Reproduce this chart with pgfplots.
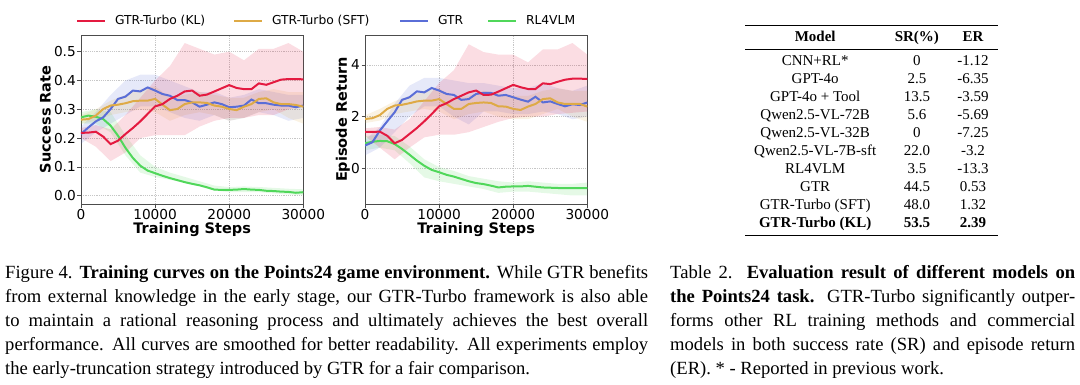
\documentclass[border=0pt]{standalone}
\usepackage{pgfplots}
\pgfplotsset{compat=1.18}
\usepackage{fontspec}
\setmainfont{Liberation Serif}
\newfontfamily\dejavu{DejaVu Sans}
\usepackage{booktabs}
\usepackage{array}
\definecolor{kl}{RGB}{228,26,64}
\definecolor{sft}{RGB}{222,170,70}
\definecolor{gtr}{RGB}{90,110,215}
\definecolor{rl}{RGB}{80,215,90}
\pgfplotsset{
  common/.style={
    scale only axis, width=222.3pt, height=169pt,
    xmin=0, xmax=30000, xtick={0,10000,20000,30000},
    scaled x ticks=false, scaled y ticks=false,
    xticklabel style={/pgf/number format/fixed,/pgf/number format/1000 sep={}},
    /pgf/number format/assume math mode=true,
    tick label style={font=\dejavu\fontsize{13.7}{15}\selectfont, inner sep=1.5pt},
    label style={font=\dejavu\bfseries\fontsize{14.5}{16}\selectfont},
    axis line style={black!70, line width=0.8pt},
    tick style={black!70, line width=0.7pt},
    tick align=outside, major tick length=3.5pt,
    xtick pos=bottom, ytick pos=left,
    grid=major, major grid style={gray!45, dash pattern=on 1.2pt off 1pt, line width=0.6pt},
    x label style={at={(axis description cs:0.5,-0.150)}, anchor=center},
  },
  band/.style={fill=#1, fill opacity=0.15, draw=none, forget plot},
}
\begin{document}
\begin{tikzpicture}
\path[use as bounding box] (0pt,0pt) rectangle (1080pt,384pt);

% ---------------- left axis: success rate
\begin{axis}[common, at={(81pt,180pt)}, anchor=south west,
  ymin=-0.029, ymax=0.558, ytick={0,0.1,0.2,0.3,0.4,0.5},
  yticklabel style={/pgf/number format/fixed,/pgf/number format/fixed zerofill,/pgf/number format/precision=1},
  xlabel={Training Steps}, ylabel={Success Rate},
  y label style={at={(axis description cs:-0.160,0.5)}, anchor=center},
  legend columns=4,
  legend cell align=left,
  legend image code/.code={\draw[#1] (0pt,0pt) -- (28pt,0pt);},
  legend style={draw=none, fill=none, inner sep=0pt,
    at={(axis description cs:-0.0233,1.0846)}, anchor=west,
    font=\dejavu\fontsize{12.3}{14}\selectfont,
    nodes={inner sep=0pt},
    /tikz/every odd column/.append style={column sep=9pt}},
]
\addlegendimage{kl, line width=2pt}\addlegendentry{\makebox[118pt][l]{GTR-Turbo (KL)}}
\addlegendimage{sft, line width=2pt}\addlegendentry{\makebox[127pt][l]{GTR-Turbo (SFT)}}
\addlegendimage{gtr, line width=2pt}\addlegendentry{\makebox[49pt][l]{GTR}}
\addlegendimage{rl, line width=2pt}\addlegendentry{RL4VLM}

% bands: upper bound forward, lower bound backward
\addplot[band=rl] coordinates {(0,0.29)(2000,0.30)(4000,0.29)(6000,0.21)(8000,0.14)(10000,0.10)(12000,0.08)(14000,0.065)(16000,0.05)(18000,0.035)(20000,0.03)(22000,0.032)(24000,0.03)(26000,0.027)(28000,0.024)(30000,0.022)
 (30000,0.002)(28000,0.004)(26000,0.008)(24000,0.012)(22000,0.012)(20000,0.012)(18000,0.018)(16000,0.032)(14000,0.045)(12000,0.055)(10000,0.065)(8000,0.08)(6000,0.14)(4000,0.22)(2000,0.25)(0,0.25)} -- cycle;
\addplot[band=gtr] coordinates {(0,0.24)(2000,0.29)(4000,0.35)(6000,0.40)(8000,0.42)(10000,0.42)(12000,0.40)(14000,0.38)(16000,0.36)(18000,0.36)(20000,0.34)(22000,0.35)(24000,0.37)(26000,0.36)(28000,0.35)(30000,0.35)
 (30000,0.27)(28000,0.26)(26000,0.28)(24000,0.29)(22000,0.27)(20000,0.26)(18000,0.28)(16000,0.26)(14000,0.27)(12000,0.29)(10000,0.31)(8000,0.31)(6000,0.28)(4000,0.25)(2000,0.22)(0,0.18)} -- cycle;
\addplot[band=sft] coordinates {(0,0.28)(2000,0.30)(4000,0.33)(6000,0.35)(8000,0.37)(10000,0.38)(12000,0.34)(14000,0.35)(16000,0.36)(18000,0.35)(20000,0.34)(22000,0.34)(24000,0.36)(26000,0.37)(28000,0.36)(30000,0.36)
 (30000,0.25)(28000,0.27)(26000,0.30)(24000,0.29)(22000,0.27)(20000,0.26)(18000,0.28)(16000,0.29)(14000,0.28)(12000,0.26)(10000,0.29)(8000,0.30)(6000,0.29)(4000,0.28)(2000,0.26)(0,0.25)} -- cycle;
\addplot[band=kl] coordinates {(0,0.235)(2000,0.245)(4000,0.23)(6000,0.28)(8000,0.34)(10000,0.40)(12000,0.45)(14000,0.53)(16000,0.51)(18000,0.49)(20000,0.50)(22000,0.47)(24000,0.51)(26000,0.51)(28000,0.53)(30000,0.50)
 (30000,0.31)(28000,0.30)(26000,0.28)(24000,0.28)(22000,0.27)(20000,0.27)(18000,0.26)(16000,0.24)(14000,0.21)(12000,0.21)(10000,0.21)(8000,0.20)(6000,0.15)(4000,0.12)(2000,0.17)(0,0.20)} -- cycle;

% lines
\addplot[rl, line width=2pt, forget plot] coordinates {(0,0.272)(1000,0.278)(2000,0.274)(3000,0.266)(4000,0.243)(5000,0.208)(6000,0.166)(7000,0.131)(8000,0.104)(9000,0.087)(10000,0.078)(11000,0.069)(12000,0.061)(13000,0.054)(14000,0.047)(15000,0.041)(16000,0.036)(17000,0.029)(18000,0.021)(19000,0.020)(20000,0.020)(21000,0.021)(22000,0.023)(23000,0.021)(24000,0.020)(25000,0.017)(26000,0.016)(27000,0.014)(28000,0.013)(29000,0.010)(30000,0.012)};
\addplot[gtr, line width=2pt, forget plot] coordinates {(0,0.214)(1000,0.237)(2000,0.258)(3000,0.272)(4000,0.301)(5000,0.336)(6000,0.344)(7000,0.365)(8000,0.362)(9000,0.376)(10000,0.365)(11000,0.353)(12000,0.347)(13000,0.332)(14000,0.332)(15000,0.324)(16000,0.309)(17000,0.316)(18000,0.324)(19000,0.318)(20000,0.307)(21000,0.309)(22000,0.313)(23000,0.334)(24000,0.321)(25000,0.321)(26000,0.316)(27000,0.313)(28000,0.313)(29000,0.307)(30000,0.313)};
\addplot[sft, line width=2pt, forget plot] coordinates {(0,0.264)(1000,0.266)(2000,0.278)(3000,0.301)(4000,0.313)(5000,0.316)(6000,0.321)(7000,0.328)(8000,0.330)(9000,0.330)(10000,0.336)(11000,0.316)(12000,0.297)(13000,0.301)(14000,0.318)(15000,0.324)(16000,0.324)(17000,0.322)(18000,0.313)(19000,0.309)(20000,0.301)(21000,0.297)(22000,0.309)(23000,0.318)(24000,0.336)(25000,0.338)(26000,0.324)(27000,0.318)(28000,0.318)(29000,0.315)(30000,0.309)};
\addplot[kl, line width=2pt, forget plot] coordinates {(0,0.218)(1000,0.219)(2000,0.222)(3000,0.205)(4000,0.179)(5000,0.191)(6000,0.214)(7000,0.235)(8000,0.258)(9000,0.284)(10000,0.310)(11000,0.318)(12000,0.336)(13000,0.347)(14000,0.362)(15000,0.365)(16000,0.347)(17000,0.351)(18000,0.362)(19000,0.373)(20000,0.384)(21000,0.374)(22000,0.370)(23000,0.370)(24000,0.390)(25000,0.385)(26000,0.394)(27000,0.403)(28000,0.405)(29000,0.405)(30000,0.404)};
\end{axis}

% ---------------- right axis: episode return
\begin{axis}[common, at={(365pt,180pt)}, anchor=south west,
  ymin=-1.38, ymax=5.16, ytick={0,2,4},
  xlabel={Training Steps}, ylabel={Episode Return},
  y label style={at={(axis description cs:-0.100,0.5)}, anchor=center},
]
\addplot[band=rl] coordinates {(0,1.25)(2000,1.3)(4000,1.25)(6000,0.85)(8000,0.35)(10000,0.05)(12000,-0.1)(14000,-0.3)(16000,-0.4)(18000,-0.5)(20000,-0.55)(22000,-0.5)(24000,-0.55)(26000,-0.6)(28000,-0.6)(30000,-0.55)
 (30000,-1.05)(28000,-1.05)(26000,-1.0)(24000,-0.95)(22000,-0.9)(20000,-0.9)(18000,-0.95)(16000,-0.8)(14000,-0.7)(12000,-0.6)(10000,-0.5)(8000,-0.35)(6000,0.2)(4000,0.7)(2000,0.8)(0,0.7)} -- cycle;
\addplot[band=gtr] coordinates {(0,1.1)(2000,1.6)(4000,2.5)(6000,3.2)(8000,3.5)(10000,3.5)(12000,3.4)(14000,3.3)(16000,3.3)(18000,3.2)(20000,3.1)(22000,3.1)(24000,3.3)(26000,3.1)(28000,3.0)(30000,3.2)
 (30000,2.0)(28000,1.9)(26000,2.1)(24000,2.2)(22000,2.1)(20000,2.1)(18000,2.2)(16000,2.2)(14000,1.7)(12000,2.0)(10000,2.4)(8000,2.4)(6000,2.0)(4000,1.4)(2000,0.8)(0,0.5)} -- cycle;
\addplot[band=sft] coordinates {(0,2.05)(2000,2.3)(4000,2.6)(6000,2.8)(8000,3.0)(10000,3.1)(12000,2.7)(14000,2.8)(16000,3.0)(18000,2.9)(20000,2.8)(22000,2.8)(24000,3.0)(26000,3.1)(28000,3.0)(30000,3.0)
 (30000,1.8)(28000,2.0)(26000,2.3)(24000,2.1)(22000,1.9)(20000,1.9)(18000,2.0)(16000,2.2)(14000,2.1)(12000,1.9)(10000,2.2)(8000,2.3)(6000,2.2)(4000,2.1)(2000,1.85)(0,1.75)} -- cycle;
\addplot[band=kl] coordinates {(0,1.55)(2000,1.6)(4000,1.5)(6000,1.9)(8000,2.6)(10000,3.3)(12000,3.8)(14000,4.8)(16000,4.5)(18000,4.4)(20000,4.4)(22000,4.1)(24000,4.6)(26000,4.6)(28000,4.85)(30000,4.4)
 (30000,2.2)(28000,2.15)(26000,2.1)(24000,2.0)(22000,2.0)(20000,1.95)(18000,1.8)(16000,1.6)(14000,1.4)(12000,1.3)(10000,1.3)(8000,1.2)(6000,0.8)(4000,0.35)(2000,0.8)(0,1.25)} -- cycle;

\addplot[rl, line width=2pt] coordinates {(0,0.97)(1000,1.03)(2000,1.06)(3000,1.05)(4000,0.94)(5000,0.75)(6000,0.53)(7000,0.30)(8000,0.10)(9000,-0.06)(10000,-0.15)(11000,-0.25)(12000,-0.32)(13000,-0.41)(14000,-0.50)(15000,-0.57)(16000,-0.61)(17000,-0.67)(18000,-0.74)(19000,-0.71)(20000,-0.70)(21000,-0.70)(22000,-0.68)(23000,-0.71)(24000,-0.74)(25000,-0.75)(26000,-0.76)(27000,-0.77)(28000,-0.77)(29000,-0.77)(30000,-0.77)};
\addplot[gtr, line width=2pt] coordinates {(0,0.88)(1000,1.01)(2000,1.46)(3000,1.82)(4000,2.17)(5000,2.65)(6000,2.75)(7000,2.98)(8000,2.94)(9000,3.11)(10000,3.01)(11000,2.88)(12000,2.84)(13000,2.65)(14000,2.68)(15000,2.88)(16000,2.92)(17000,2.92)(18000,2.81)(19000,2.84)(20000,2.75)(21000,2.66)(22000,2.58)(23000,2.77)(24000,2.55)(25000,2.59)(26000,2.49)(27000,2.40)(28000,2.48)(29000,2.45)(30000,2.55)};
\addplot[sft, line width=2pt] coordinates {(0,1.91)(1000,1.94)(2000,2.06)(3000,2.30)(4000,2.43)(5000,2.46)(6000,2.52)(7000,2.59)(8000,2.62)(9000,2.62)(10000,2.68)(11000,2.49)(12000,2.30)(13000,2.30)(14000,2.49)(15000,2.53)(16000,2.55)(17000,2.53)(18000,2.40)(19000,2.39)(20000,2.30)(21000,2.26)(22000,2.39)(23000,2.49)(24000,2.68)(25000,2.71)(26000,2.55)(27000,2.49)(28000,2.49)(29000,2.49)(30000,2.39)};
\addplot[kl, line width=2pt] coordinates {(0,1.41)(1000,1.41)(2000,1.42)(3000,1.26)(4000,0.97)(5000,1.10)(6000,1.33)(7000,1.56)(8000,1.82)(9000,2.10)(10000,2.40)(11000,2.52)(12000,2.68)(13000,2.81)(14000,2.94)(15000,3.01)(16000,2.84)(17000,2.85)(18000,2.97)(19000,3.10)(20000,3.23)(21000,3.14)(22000,3.07)(23000,3.07)(24000,3.29)(25000,3.26)(26000,3.35)(27000,3.43)(28000,3.47)(29000,3.47)(30000,3.46)};
\end{axis}

% ---------------- table
\node[anchor=north west, inner sep=0pt] at (745pt,359.6pt) {%
  \fontsize{15}{18.1}\selectfont
  \setlength{\tabcolsep}{0pt}\setlength{\heavyrulewidth}{1.2pt}\setlength{\lightrulewidth}{0.7pt}%
  \begin{tabular}{>{\centering\arraybackslash}p{140pt}>{\centering\arraybackslash}p{63.4pt}>{\centering\arraybackslash}p{48.9pt}}
  \toprule
  \textbf{Model} & \textbf{SR(\%)} & \textbf{ER}\\
  \midrule
  CNN+RL* & 0 & -1.12\\
  GPT-4o & 2.5 & -6.35\\
  GPT-4o + Tool & 13.5 & -3.59\\
  Qwen2.5-VL-72B & 5.6 & -5.69\\
  Qwen2.5-VL-32B & 0 & -7.25\\
  Qwen2.5-VL-7B-sft & 22.0 & -3.2\\
  RL4VLM & 3.5 & -13.3\\
  GTR & 44.5 & 0.53\\
  GTR-Turbo (SFT) & 48.0 & 1.32\\
  \textbf{GTR-Turbo (KL)} & \textbf{53.5} & \textbf{2.39}\\
  \bottomrule
  \end{tabular}};

% ---------------- captions
\begin{scope}[every node/.style={anchor=base west, inner sep=0pt, font=\fontsize{18.6}{24}\selectfont}]
\node at (5pt,106pt) {\makebox[643pt][s]{Figure 4. \textbf{Training curves on the Points24 game environment.} While GTR benefits}};
\node at (5pt,82pt) {\makebox[643pt][s]{from external knowledge in the early stage, our GTR-Turbo framework is also able}};
\node at (5pt,58pt) {\makebox[643pt][s]{to maintain a rational reasoning process and ultimately achieves the best overall}};
\node at (5pt,34pt) {\makebox[643pt][s]{performance. All curves are smoothed for better readability. All experiments employ}};
\node at (5pt,10pt) {the early-truncation strategy introduced by GTR for a fair comparison.};
\node at (670pt,106pt) {\makebox[405pt][s]{Table 2. \textbf{Evaluation result of different models on}}};
\node at (670pt,82pt) {\makebox[405pt][s]{\textbf{the Points24 task.} GTR-Turbo significantly outper-}};
\node at (670pt,58pt) {\makebox[405pt][s]{forms other RL training methods and commercial}};
\node at (670pt,34pt) {\makebox[405pt][s]{models in both success rate (SR) and episode return}};
\node at (670pt,10pt) {(ER). * - Reported in previous work.};
\end{scope}
\end{tikzpicture}
\end{document}
